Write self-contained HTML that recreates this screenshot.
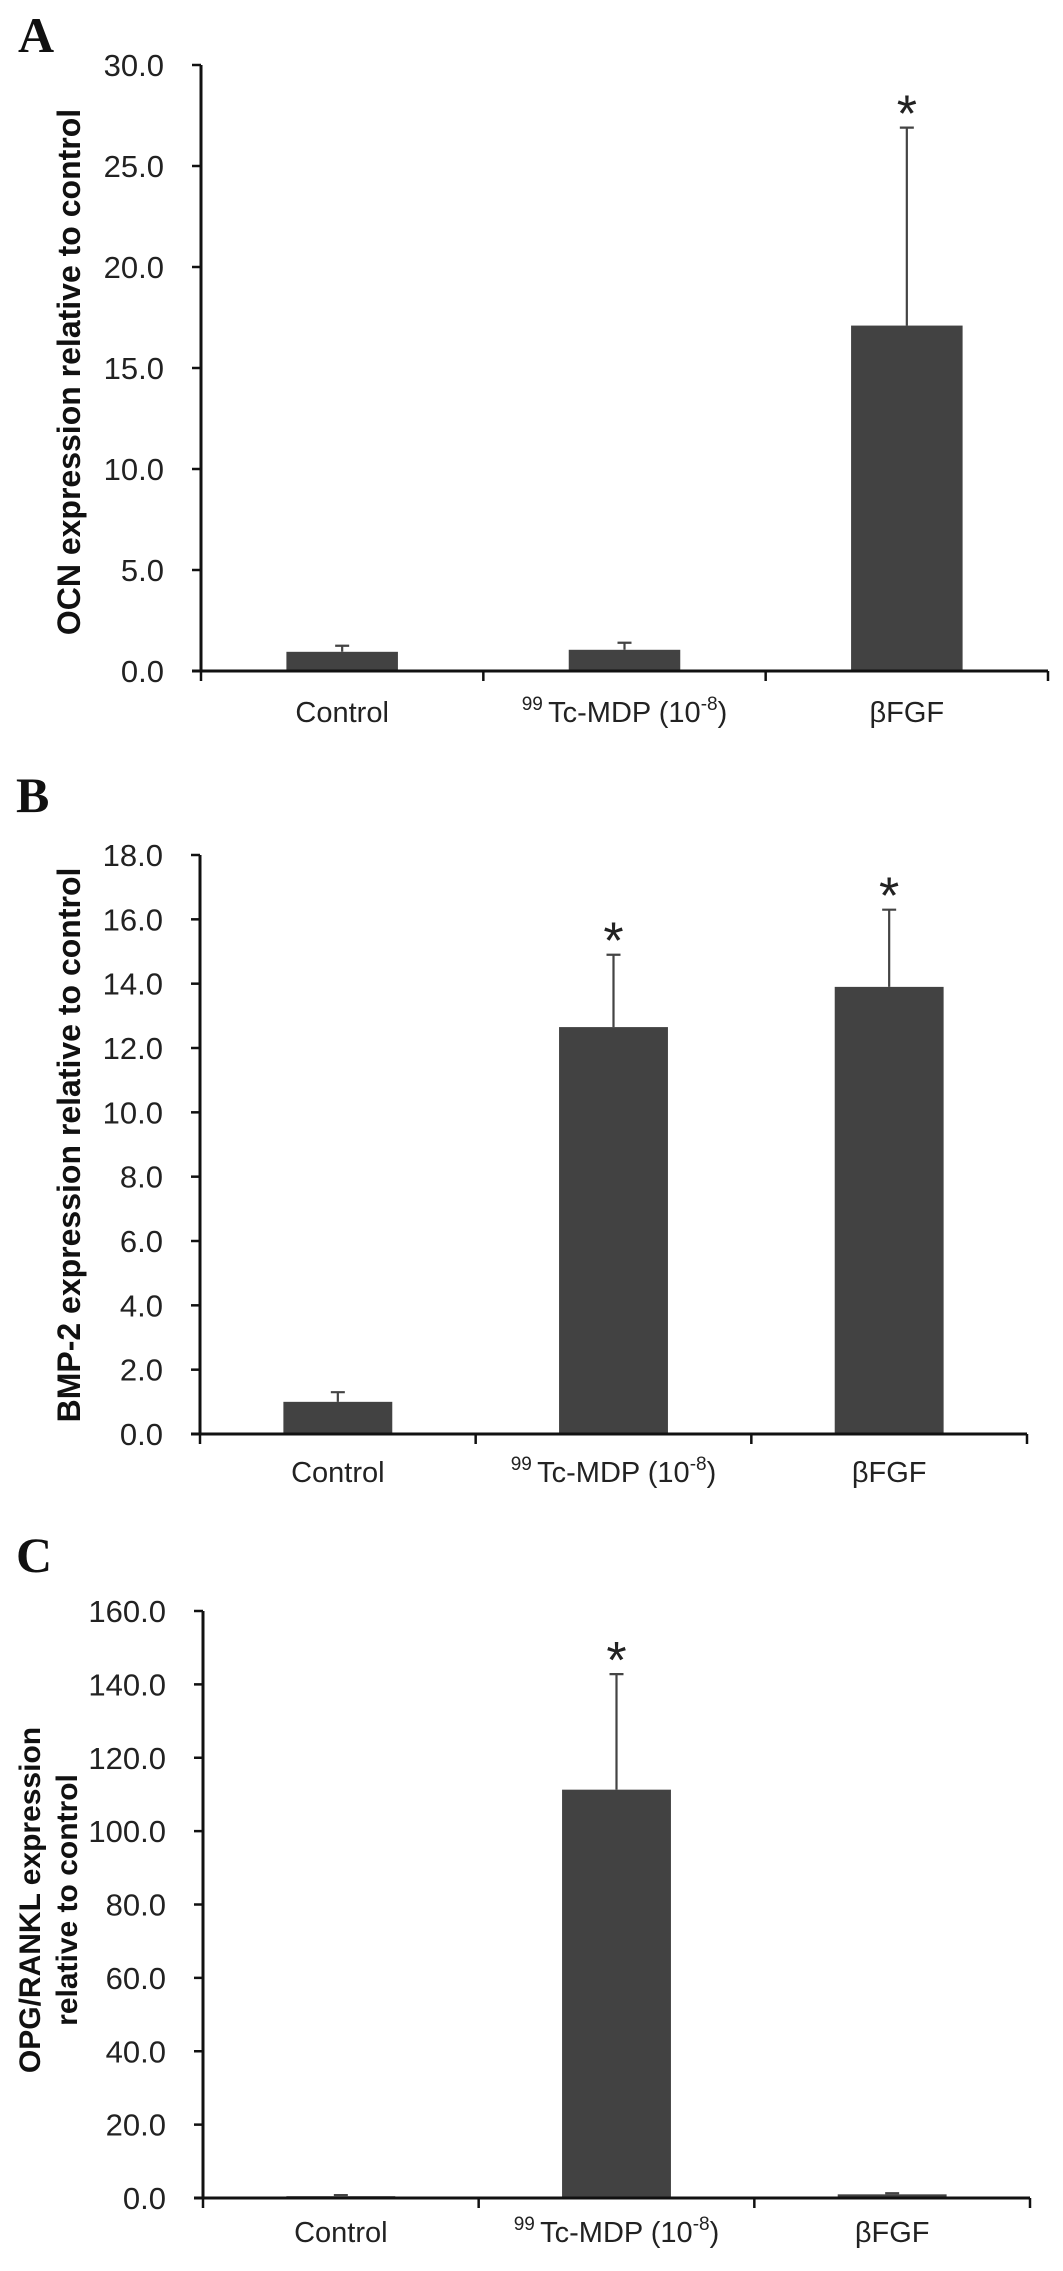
<!DOCTYPE html>
<html><head><meta charset="utf-8">
<style>
html,body{margin:0;padding:0;background:#fff;}
svg{display:block;}
text{font-family:"Liberation Sans",Arial,sans-serif;fill:#222;}
.tick{font-size:31px;}
.cat{font-size:29px;}
.ylab{font-size:32px;font-weight:bold;fill:#111;}
.ylabc{font-size:30px;font-weight:bold;fill:#111;}
.plabel{font-family:"Liberation Serif",serif;font-weight:bold;font-size:50px;fill:#111;}
.star{font-size:52px;fill:#222;}
</style></head>
<body>
<svg id="fig" width="1063" height="2271" viewBox="0 0 1063 2271" xmlns="http://www.w3.org/2000/svg">
<text class="plabel" x="18" y="52">A</text>
<text class="plabel" x="16" y="812">B</text>
<text class="plabel" x="16" y="1572">C</text>
<text class="ylab" transform="translate(80,372) rotate(-90)" text-anchor="middle">OCN expression relative to control</text>
<text class="ylab" transform="translate(80,1145) rotate(-90)" text-anchor="middle">BMP-2 expression relative to control</text>
<text class="ylabc" transform="translate(40,1900) rotate(-90)" text-anchor="middle">OPG/RANKL expression</text>
<text class="ylabc" transform="translate(77,1900) rotate(-90)" text-anchor="middle">relative to control</text>
</svg>
<script>
const categories = ["Control", "MDP", "βFGF"];
const valuesA = [0.95, 1.05, 17.1];
const errorsA = [0.3, 0.35, 9.8];
const sigA = [false, false, true];
const ticksA = ["0.0","5.0","10.0","15.0","20.0","25.0","30.0"];
const valuesB = [1.0, 12.65, 13.9];
const errorsB = [0.3, 2.25, 2.4];
const sigB = [false, true, true];
const ticksB = ["0.0","2.0","4.0","6.0","8.0","10.0","12.0","14.0","16.0","18.0"];
const valuesC = [0.5, 111.3, 1.0];
const errorsC = [0.3, 31.5, 0.3];
const sigC = [false, true, false];
const ticksC = ["0.0","20.0","40.0","60.0","80.0","100.0","120.0","140.0","160.0"];

const NS = "http://www.w3.org/2000/svg";
const svg = document.getElementById('fig');
function mk(tag, attrs, parent){
  const e = document.createElementNS(NS, tag);
  for (const k in attrs) e.setAttribute(k, attrs[k]);
  (parent||svg).appendChild(e);
  return e;
}
function panel(id, values, errors, sig, ticks, layout){
  const g = mk('g', {});
  
  
  const maxV = parseFloat(ticks[ticks.length-1]);
  const y = v => layout.y0 - (v / maxV) * (layout.y0 - layout.yTop);
  const cw = (layout.x1 - layout.x0) / categories.length;
  const x = i => layout.x0 + cw * (i + 0.5);
  const bw = cw * 0.395;
  values.forEach((v, i) => {
    const r = mk('rect', {x: x(i) - bw/2, y: y(v), width: bw, height: layout.y0 - y(v), fill: '#424242'}, g);
    
    
    const top = y(v + errors[i]);
    const eb = mk('path', {d: `M${x(i)},${y(v)}V${top}M${x(i)-7},${top}H${x(i)+7}`, stroke: '#444', 'stroke-width': 2.2, fill: 'none'}, g);
    
    
    if (sig[i]) {
      const s = mk('text', {x: x(i), y: top + 4, 'text-anchor': 'middle', class: 'star'}, g);
      s.textContent = '*';
      
      
    }
  });
  const ya = mk('path', {d: `M${layout.x0},${layout.yTop}V${layout.y0}`, stroke: '#111', 'stroke-width': 3, fill: 'none'}, g);
  
  
  ticks.forEach(t => {
    const v = parseFloat(t);
    const tk = mk('path', {d: `M${layout.x0-9},${y(v)}H${layout.x0}`, stroke: '#111', 'stroke-width': 2.5}, g);
    
    
    const tl = mk('text', {x: layout.x0 - 37, y: y(v) + 11, 'text-anchor': 'end', class: 'tick'}, g);
    tl.textContent = t;
    
    
  });
  const xa = mk('path', {d: `M${layout.x0-9},${layout.y0}H${layout.x1}`, stroke: '#111', 'stroke-width': 3, fill: 'none'}, g);
  
  
  for (let i = 0; i <= categories.length; i++) {
    const xt = layout.x0 + cw * i;
    const tk = mk('path', {d: `M${xt},${layout.y0}V${layout.y0+10}`, stroke: '#111', 'stroke-width': 2.5}, g);
    
    
  }
  categories.forEach((c, i) => {
    const t = mk('text', {x: x(i), y: layout.labY, 'text-anchor': 'middle', class: 'cat'}, g);
    
    
    if (c === 'MDP') {
      t.setAttribute('xml:space', 'preserve');
      t.innerHTML = '<tspan font-size="19" dy="-12">99 </tspan><tspan dy="12">Tc-MDP  (10</tspan><tspan font-size="19" dy="-12">-8</tspan><tspan dy="12">)</tspan>';
    } else {
      t.textContent = c;
    }
  });
}
panel('a', valuesA, errorsA, sigA, ticksA, {x0: 201, x1: 1048, y0: 671, yTop: 65, labY: 722});
panel('b', valuesB, errorsB, sigB, ticksB, {x0: 200, x1: 1027, y0: 1434, yTop: 855, labY: 1482});
panel('c', valuesC, errorsC, sigC, ticksC, {x0: 203, x1: 1030, y0: 2198, yTop: 1611, labY: 2242});
</script>
</body></html>
